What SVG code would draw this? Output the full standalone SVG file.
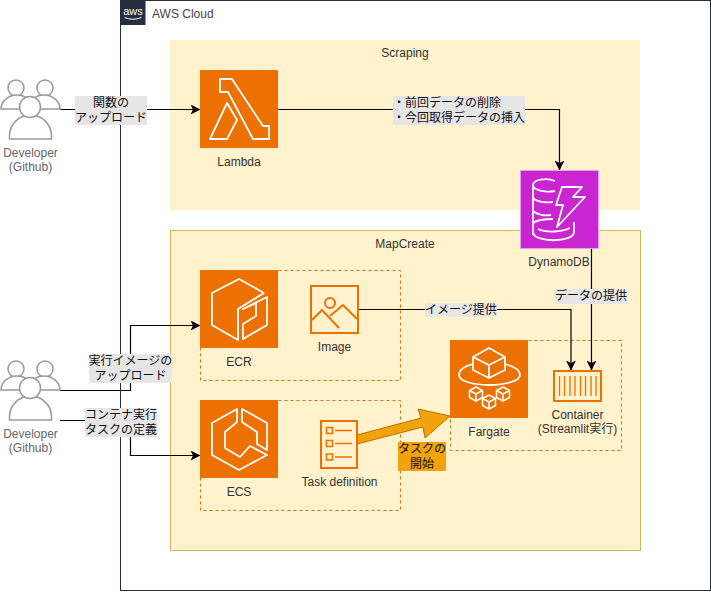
<svg xmlns="http://www.w3.org/2000/svg" width="711" height="601" viewBox="0 0 711 601">
<style>
text{font-family:"Liberation Sans","Noto Sans CJK JP",sans-serif;font-size:12px;fill:#333;text-anchor:middle}
.lbl{fill:#111}
.grp{fill:#FFF2CC;stroke:none}
.dash{fill:none;stroke:#D86F0E;stroke-dasharray:3 3}
.ic{fill:none;stroke:#fff;stroke-width:1.8;stroke-linejoin:round}
.oi{fill:none;stroke:#ED7100;stroke-width:2}
.u{fill:#fff;stroke:#999;stroke-width:1.5}
.cap{fill:#666}
.edge{fill:none;stroke:#000;stroke-width:1.2}
.bg{fill:#E6E6E6}
</style>
<defs>
<marker id="arr" viewBox="0 0 10 10" refX="9.500" refY="5" markerWidth="10" markerHeight="10" markerUnits="userSpaceOnUse" orient="auto"><path d="M0 0L10 5L0 10L2.500 5Z" fill="#000"/></marker>
<g id="users">
<circle cx="16" cy="88" r="8" class="u"/><path class="u" d="M1 109a16 14 0 0 1 32 0Z"/>
<circle cx="45" cy="88" r="8" class="u"/><path class="u" d="M28 109a16 14 0 0 1 32 0Z"/>
<path class="u" d="M9.500 139v-3a21 21 0 0 1 42 0v3Z"/><circle cx="30" cy="107" r="10.500" class="u"/>
</g>
</defs>
<rect width="711" height="601" fill="#fff"/>
<g id="aws-cloud">
<rect x="120.500" y="0.500" width="590" height="590" fill="#fff" stroke="#232F3E"/>
<rect x="120.500" y="0" width="25" height="25" fill="#232F3E"/>
<text x="133" y="15" style="font-size:11px;fill:#fff">aws</text>
<path d="M124.500 17.500q8 3.500 17 0" fill="none" stroke="#fff"/>
<text x="152" y="18" style="text-anchor:start;fill:#444">AWS Cloud</text>
</g>
<g id="scraping"><rect class="grp" x="170" y="40" width="470" height="170"/><text x="405" y="57">Scraping</text></g>
<g id="mapcreate"><rect x="170.500" y="230.500" width="470" height="320" fill="#FFF2CC" stroke="#D6B656"/><text x="405" y="248">MapCreate</text></g>
<g id="ecr-box"><rect class="dash" x="200.500" y="270.500" width="200" height="110"/></g>
<g id="ecs-box"><rect class="dash" x="200.500" y="400.500" width="200" height="110"/></g>
<g id="fargate-box"><rect class="dash" x="450.500" y="340.500" width="171" height="110"/></g>
<g id="connectors">
<path class="edge" marker-end="url(#arr)" d="M60 109.500H200"/>
<path class="edge" marker-end="url(#arr)" d="M278 109.500H559.500V170"/>
<path class="edge" marker-end="url(#arr)" d="M60 390.500H130.500V325.500H200"/>
<path class="edge" marker-end="url(#arr)" d="M60 420.500H130.500V455.500H200"/>
<path class="edge" marker-end="url(#arr)" d="M357 309.500H571V370"/>
<path class="edge" marker-end="url(#arr)" d="M591.500 248V370"/>
<path d="M357 435L421 418L418 409L450 416L425 438L423 427L357 444Z" fill="#F0A30A" stroke="#BD7000"/>
<rect class="bg" x="75" y="96" width="72" height="29"/>
<text class="lbl" x="111" y="107">関数の</text><text class="lbl" x="111" y="122">アップロード</text>
<rect class="bg" x="393" y="96" width="132" height="29"/>
<text class="lbl" x="393" y="107" style="text-anchor:start">・前回データの削除</text><text class="lbl" x="393" y="122" style="text-anchor:start">・今回取得データの挿入</text>
<rect class="bg" x="89" y="354" width="83" height="29"/>
<text class="lbl" x="130.500" y="365">実行イメージの</text><text class="lbl" x="130.500" y="380">アップロード</text>
<rect class="bg" x="85" y="408" width="72" height="29"/>
<text class="lbl" x="121" y="419">コンテナ実行</text><text class="lbl" x="121" y="434">タスクの定義</text>
<rect class="bg" x="425" y="303" width="72" height="14"/>
<text class="lbl" x="461" y="314">イメージ提供</text>
<rect class="bg" x="555" y="289" width="72" height="15"/>
<text class="lbl" x="591" y="300">データの提供</text>
<rect x="398" y="442" width="48" height="29" fill="#F0A30A"/>
<text class="lbl" x="422" y="453">タスクの</text><text class="lbl" x="422" y="468">開始</text>
</g>
<g id="dev1"><use href="#users"/><text class="cap" x="30.500" y="157">Developer</text><text class="cap" x="30.500" y="171">(Github)</text></g>
<g id="dev2"><use href="#users" y="281"/><text class="cap" x="30.500" y="438">Developer</text><text class="cap" x="30.500" y="452">(Github)</text></g>
<g id="lambda">
<rect x="200" y="70" width="78" height="78" fill="#ED7100"/>
<path class="ic" d="M220 79H232L263 126H269V139H253L228 92H220Z"/>
<path class="ic" d="M227 103L237 120L227 139H210Z"/>
<text x="239" y="166">Lambda</text>
</g>
<g id="dynamodb">
<rect x="520.500" y="170.500" width="78" height="78" fill="#C925D1" stroke="#E7A0EA"/>
<path class="ic" d="M555 181C546 177 533 180 533 185C533 190 545 193 555 191M533 185V235M533 198C537 202 546 203 553 202M533 211C537 215 545 216 551 215M533 223C537 220 546 219 553 219M574 222V232C574 243 533 243 533 232M538 229C546 233 562 232 570 228"/>
<path class="ic" d="M562 187H582L573 197H585L557 227L563 205H556Z"/>
<text x="559" y="266">DynamoDB</text>
</g>
<g id="ecr">
<rect x="200" y="270" width="78" height="78" fill="#ED7100"/>
<path class="ic" d="M264 293L239 279L212 293V325L238 340V309L264 293"/>
<path class="ic" d="M243 309L267 297V325L243 339V324L256 316V303Z"/>
<text x="239" y="366">ECR</text>
</g>
<g id="image">
<rect class="oi" x="311" y="286" width="47" height="47"/>
<circle cx="330" cy="303" r="5" class="oi"/>
<path class="oi" d="M312 320L322 310L339 328M330 316L343 305L357 319"/>
<text x="334.500" y="351">Image</text>
</g>
<g id="ecs">
<rect x="200" y="400" width="78" height="78" fill="#ED7100"/>
<path class="ic" d="M237 409L212 423V455L239 470L267 455L250 446L240 457L225 448V432L237 422Z"/>
<path class="ic" d="M242 409L267 423V450L257 444V432L242 422Z"/>
<text x="239" y="496">ECS</text>
</g>
<g id="task">
<rect class="oi" x="321" y="421" width="36" height="47"/>
<path class="oi" d="M335 430.500H352M335 443.500H352M335 457H352M326.500 427.500h6v6h-6ZM326.500 440.500h6v6h-6ZM326.500 454h6v6h-6Z" style="stroke-width:1.600"/>
<text x="339.500" y="486">Task definition</text>
</g>
<g id="fargate">
<rect x="450" y="340" width="78" height="78" fill="#ED7100"/>
<path class="ic" d="M489 348L505 357V370L489 378L473 370V357ZM473 357L489 365L505 357M489 365V378"/>
<path class="ic" d="M473 364C465 366 459 370 459 375C459 381 473 385 489 385C505 385 520 381 520 375C520 370 513 366 505 364"/>
<path class="ic" style="stroke-width:1.500" d="M476 387l6.500 3.500v7l-6.500 3.500l-6.500-3.500v-7ZM469.500 390.500l6.500 3.500l6.500-3.500M476 394v7M489 395l6.500 3.500v7l-6.500 3.500l-6.500-3.500v-7ZM482.500 398.500l6.500 3.500l6.500-3.500M489 402v7M503 387l6.500 3.500v7l-6.500 3.500l-6.500-3.500v-7ZM496.500 390.500l6.500 3.500l6.500-3.500M503 394v7"/>
<text x="489" y="436">Fargate</text>
</g>
<g id="container">
<rect class="oi" x="554" y="371" width="47" height="30"/>
<path class="oi" d="M559.500 376V396M564.500 376V396M570 376V396M575 376V396M580.500 376V396M585.500 376V396M591 376V396M596 376V396" style="stroke-width:1.300"/>
<text x="577.500" y="419">Container</text><text x="577.500" y="433">(Streamlit実行)</text>
</g>
</svg>
